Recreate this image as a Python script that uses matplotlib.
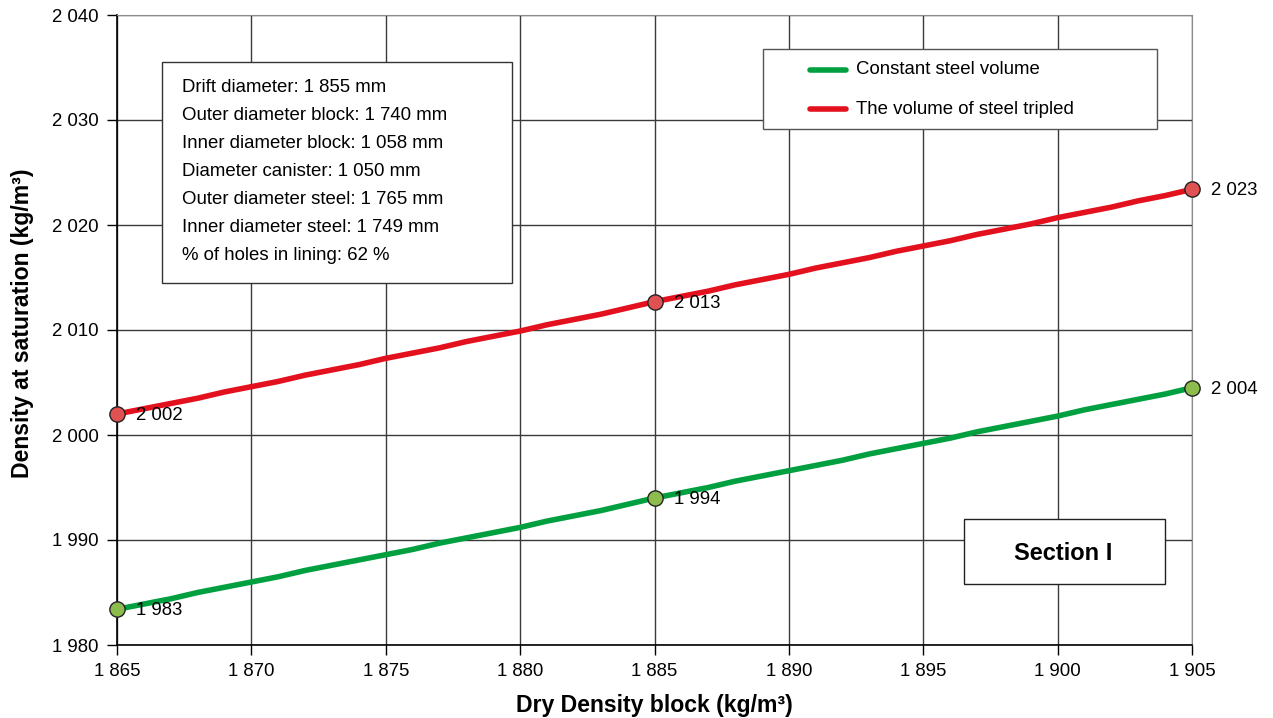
import numpy as np
import matplotlib.pyplot as plt
from matplotlib.patches import Rectangle
from matplotlib.ticker import FuncFormatter, MultipleLocator

plt.rcParams['font.family'] = ['Liberation Sans', 'DejaVu Sans']

# data
dry_density = list(range(1865, 1906))
constant_steel = [1983.4, 1983.9, 1984.4, 1985.0, 1985.5, 1986.0, 1986.5, 1987.1, 1987.6, 1988.1,
                  1988.6, 1989.1, 1989.7, 1990.2, 1990.7, 1991.2, 1991.8, 1992.3, 1992.8, 1993.4,
                  1994.0, 1994.5, 1995.0, 1995.6, 1996.1, 1996.6, 1997.1, 1997.6, 1998.2, 1998.7,
                  1999.2, 1999.7, 2000.3, 2000.8, 2001.3, 2001.8, 2002.4, 2002.9, 2003.4, 2003.9,
                  2004.5]
tripled_steel = [2002.0, 2002.5, 2003.0, 2003.5, 2004.1, 2004.6, 2005.1, 2005.7, 2006.2, 2006.7,
                 2007.3, 2007.8, 2008.3, 2008.9, 2009.4, 2009.9, 2010.5, 2011.0, 2011.5, 2012.1,
                 2012.7, 2013.2, 2013.7, 2014.3, 2014.8, 2015.3, 2015.9, 2016.4, 2016.9, 2017.5,
                 2018.0, 2018.5, 2019.1, 2019.6, 2020.1, 2020.7, 2021.2, 2021.7, 2022.3, 2022.8,
                 2023.4]
marker_x = [1865, 1885, 1905]
marker_green = [1983.4, 1994.0, 2004.5]
marker_red = [2002.0, 2012.7, 2023.4]
label_green = ["1 983", "1 994", "2 004"]
label_red = ["2 002", "2 013", "2 023"]
info_lines = ["Drift diameter: 1 855 mm",
              "Outer diameter block: 1 740 mm",
              "Inner diameter block: 1 058 mm",
              "Diameter canister: 1 050 mm",
              "Outer diameter steel: 1 765 mm",
              "Inner diameter steel: 1 749 mm",
              "% of holes in lining: 62 %"]
series_names = ["Constant steel volume", "The volume of steel tripled"]

def fmt(v, pos):
    return "{:,}".format(int(round(v))).replace(",", " ")

fig = plt.figure(figsize=(12.73, 7.18), dpi=100)
ax = fig.add_axes([117/1273, 73/718, 1075/1273, 630/718])

ax.plot(dry_density, constant_steel, color='#00a040', lw=4, zorder=3)
ax.plot(dry_density, tripled_steel, color='#e3101d', lw=4, zorder=3)
ax.plot(marker_x, marker_green, 'o', ms=11, mfc='#8cbd4c', mec='#222222', mew=1, zorder=4, clip_on=False)
ax.plot(marker_x, marker_red, 'o', ms=11, mfc='#e05252', mec='#222222', mew=1, zorder=4, clip_on=False)

for x, y, s in zip(marker_x, marker_green, label_green):
    ax.annotate(s, (x, y), xytext=(14, -1), textcoords='offset points', va='center', fontsize=13.4)
for x, y, s in zip(marker_x, marker_red, label_red):
    ax.annotate(s, (x, y), xytext=(14, -1), textcoords='offset points', va='center', fontsize=13.4)

ax.set_xlim(1865, 1905)
ax.set_ylim(1980, 2040)
ax.xaxis.set_major_locator(MultipleLocator(5))
ax.yaxis.set_major_locator(MultipleLocator(10))
ax.xaxis.set_major_formatter(FuncFormatter(fmt))
ax.yaxis.set_major_formatter(FuncFormatter(fmt))
ax.tick_params(direction='out', length=7, width=1, labelsize=13.4, pad=6)
ax.grid(True, color='#3a3a3a', lw=1)
ax.set_axisbelow(True)
for s in ['top', 'right']:
    ax.spines[s].set_color('#8a8a8a')
for s in ['left', 'bottom']:
    ax.spines[s].set_color('black')
    ax.spines[s].set_linewidth(1.2)

ax.set_xlabel("Dry Density block (kg/m³)", fontsize=16.6, fontweight='bold', labelpad=10)
ax.set_ylabel("Density at saturation (kg/m³)", fontsize=16.6, fontweight='bold')
ax.yaxis.set_label_coords(-0.077, 0.51)

# info box
ax.add_patch(Rectangle((45/1075, 362/630), 350/1075, 221/630, transform=ax.transAxes,
                       facecolor='white', edgecolor='#333333', lw=1, zorder=5))
for i, line in enumerate(info_lines):
    ax.text(65/1075, (645 - 87 - 28*i)/630, line, transform=ax.transAxes,
            va='center', fontsize=13.4, zorder=6)

# legend box
ax.add_patch(Rectangle((646/1075, 516/630), 394/1075, 80/630, transform=ax.transAxes,
                       facecolor='white', edgecolor='#555555', lw=1, zorder=5))
for i, (name, c) in enumerate(zip(series_names, ['#00a040', '#e3101d'])):
    yy = (645 - 70 - 39*i)/630
    ax.plot([693/1075, 729/1075], [yy, yy], transform=ax.transAxes, color=c, lw=4,
            solid_capstyle='round', zorder=6)
    ax.text(739/1075, yy, name, transform=ax.transAxes, va='center', fontsize=13.4, zorder=6)

# section box
ax.add_patch(Rectangle((847/1075, 61/630), 201/1075, 65/630, transform=ax.transAxes,
                       facecolor='white', edgecolor='#222222', lw=1, zorder=5))
ax.text(946/1075, 92/630, "Section I", transform=ax.transAxes, ha='center', va='center',
        fontsize=17, fontweight='bold', zorder=6)

fig.savefig("out.png", dpi=100)
